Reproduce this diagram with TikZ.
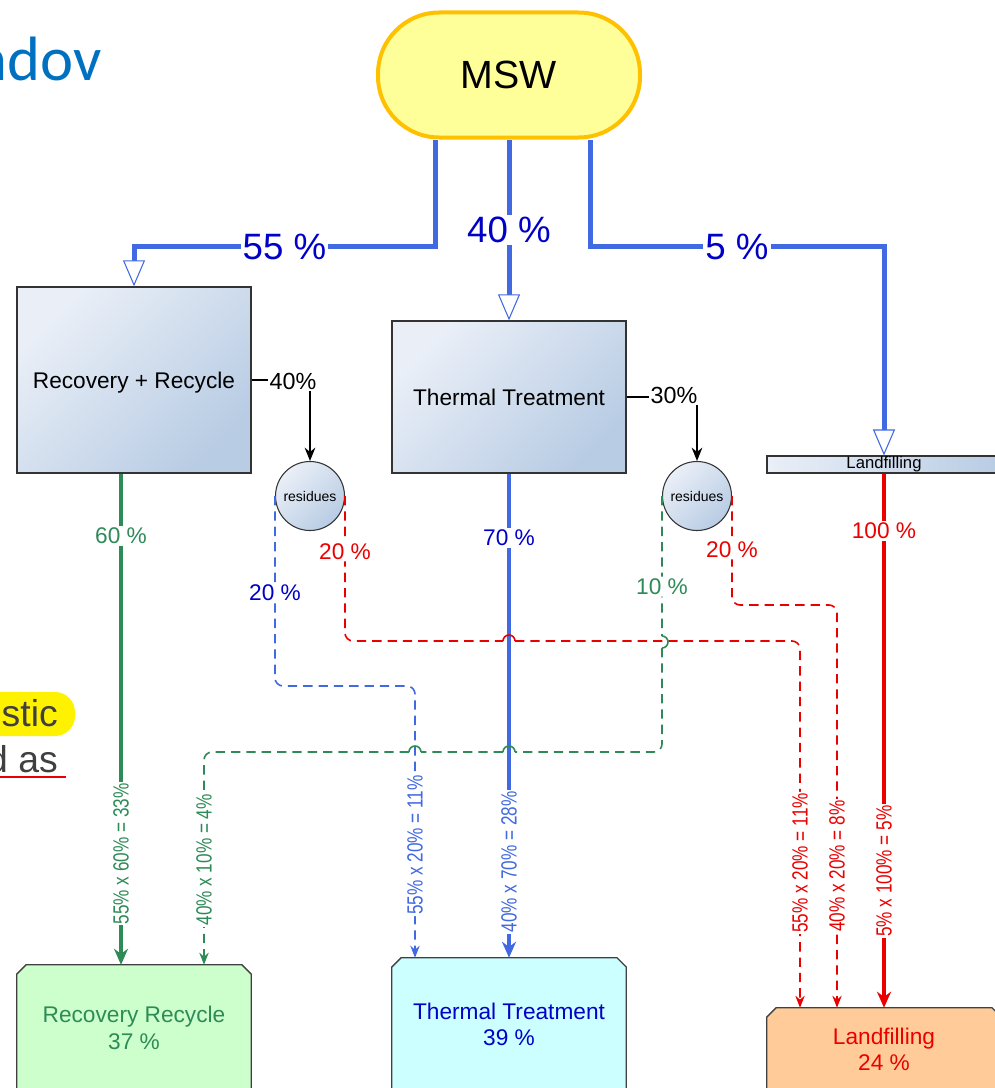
\documentclass[tikz,border=0pt]{standalone}
\usepackage{fontspec}
\setmainfont{Liberation Sans}
\newfontfamily\calib{Carlito}
\usepackage{graphicx}
\usetikzlibrary{arrows.meta,calc}
\definecolor{lineblue}{RGB}{65,105,225}
\definecolor{txtblue}{RGB}{0,0,200}
\definecolor{sgreen}{RGB}{46,139,87}
\definecolor{fred}{RGB}{235,0,0}
\definecolor{gold}{RGB}{255,192,0}
\definecolor{mswfill}{RGB}{255,255,153}
\definecolor{boxlight}{RGB}{234,239,247}
\definecolor{boxdark}{RGB}{184,204,228}
\definecolor{slideblue}{RGB}{0,112,192}
\definecolor{rrfill}{RGB}{204,255,204}
\definecolor{ttfill}{RGB}{204,255,255}
\definecolor{lffill}{RGB}{255,204,153}
\newcommand\condensed[1]{\scalebox{0.78}[1]{#1}}
\newcommand\chambox[2]{\draw[line width=1pt, draw=black!75, fill=#2] ([yshift=-7pt]#1.north west) -- ([xshift=7pt]#1.north west) -- ([xshift=-7pt]#1.north east) -- ([yshift=-7pt]#1.north east) -- (#1.south east) -- (#1.south west) -- cycle;}
\begin{document}
\begin{tikzpicture}[x=0.75pt,y=-0.75pt,
  procbox/.style={draw=black!80, line width=1pt, top color=boxlight, bottom color=boxdark, shading angle=45, font=\fontsize{17}{20}\selectfont, text=black, inner sep=0, minimum width=175.5pt, text height=12.2pt, text depth=0pt},
  resbox/.style={circle, draw=black!80, line width=0.8pt, top color=boxlight, bottom color=boxdark, shading angle=45, minimum size=51.75pt, inner sep=0, font=\fontsize{10.5}{12}\selectfont},
  outshape/.style={minimum width=175.5pt, inner sep=0},
  outtext/.style={align=center, font=\fontsize{17}{20}\selectfont, inner sep=0},
  mainflow/.style={draw=lineblue, line width=3.75pt, -{Triangle[fill=white, length=19.5pt, width=16.5pt, line width=0.8pt]}},
  bigl/.style={fill=white, inner sep=1.5pt, font=\fontsize{27.5}{30}\selectfont, text=txtblue},
  solidflow/.style={line width=3pt, -{Stealth[length=12pt, width=10.5pt]}},
  dflow/.style={line width=1.2pt, dash pattern=on 7pt off 4.5pt, rounded corners=6pt, -{Stealth[length=9pt, width=7pt]}},
  hop/.style={line width=1.2pt},
  lbl/.style={fill=white, inner sep=1.5pt, font=\fontsize{17}{20}\selectfont},
  rot/.style={rotate=90, fill=white, inner sep=1pt, font=\fontsize{16.5}{18}\selectfont},
  pct/.style={inner sep=1pt, font=\fontsize{17.5}{20}\selectfont, text=black}
]
\useasboundingbox (0,0) rectangle (995,1088);

% slide fragments
\node[anchor=base east, inner sep=0, font=\calib\fontsize{47}{50}\selectfont, text=slideblue] (title) at (102,80) {ndov};
\fill[yellow, rounded corners=15pt] (-40,692) rectangle (75,736);
\node[anchor=base east, inner sep=0, font=\fontsize{28}{32}\selectfont, text=black!75] (frag1) at (58,726) {stic};
\node[anchor=base east, inner sep=0, font=\fontsize{28}{32}\selectfont, text=black!75] (frag2) at (58,772) {d as};
\draw[fred, line width=1.5pt] (0,777) -- (66,777);

% nodes
\node[draw=gold, line width=3pt, fill=mswfill, rounded corners=46pt, minimum width=196.5pt, minimum height=93.75pt, font=\fontsize{29.5}{32}\selectfont] (msw) at (509,75) {MSW};
\node[procbox, minimum height=139.5pt] (rr) at (134,380) {Recovery + Recycle};
\node[procbox, minimum height=114pt] (tt) at (509,397) {Thermal Treatment};
\node[draw=black!80, line width=0.8pt, left color=boxlight, right color=boxdark, minimum width=175.5pt, minimum height=12.75pt, inner sep=0, text height=8.5pt, text depth=2.5pt, font=\fontsize{12.5}{13}\selectfont] (lfbar) at (884,464.5) {Landfilling};
\node[resbox] (res1) at (310,496) {residues};
\node[resbox] (res2) at (697,496) {residues};
\node[pct, anchor=west] (p40) at (268,381) {40\%};
\node[pct, anchor=west] (p30) at (649,395) {30\%};

\node[outshape, minimum height=94.5pt] (rr2) at (134,1028) {};
\node[outshape, minimum height=99.75pt] (tt2) at (509,1024.5) {};
\node[outshape, minimum height=62.25pt] (lf2) at (884,1049.5) {};
\chambox{rr2}{rrfill}
\chambox{tt2}{ttfill}
\chambox{lf2}{lffill}
\node[outtext, text=sgreen] (rr2t) at (rr2.center) {Recovery Recycle\\37 \%};
\node[outtext, text=txtblue] (tt2t) at (tt2.center) {Thermal Treatment\\39 \%};
\node[outtext, text=fred] (lf2t) at (lf2.center) {Landfilling\\24 \%};

% main flows from MSW
\draw[mainflow] ([xshift=-55.5pt]msw.south) -- ++(0,107) -| node[pos=0.25, bigl]{55 \%} (rr.north);
\draw[mainflow] (msw.south) -- node[pos=0.5, bigl]{40 \%} (tt.north);
\draw[mainflow] ([xshift=60.75pt]msw.south) -- ++(0,107) -| node[pos=0.25, bigl]{5 \%} (lfbar.north);

% residue splits
\draw[line width=1.1pt] (rr.east) -- (rr.east -| p40.west);
\draw[line width=1.1pt] (tt.east) -- (tt.east -| p30.west);
\draw[line width=1.1pt, -{Stealth[length=10pt, width=8pt]}] (p40.south -| res1.north) -- (res1.north);
\draw[line width=1.1pt, -{Stealth[length=10pt, width=8pt]}] (p30.south -| res2.north) -- (res2.north);

% solid flows
\draw[solidflow, draw=sgreen, text=sgreen] ([xshift=-9.75pt]rr.south) -- node[pos=0.126, lbl]{60 \%} node[pos=0.774, rot]{\condensed{55\% x 60\% = 33\%}} ([xshift=-9.75pt]rr2.north);
\draw[solidflow, draw=lineblue] (tt.south) -- node[pos=0.132, lbl, text=txtblue]{70 \%} node[pos=0.802, rot, text=lineblue]{\condensed{40\% x 70\% = 28\%}} (tt2.north);
\draw[solidflow, draw=fred, text=fred] (lfbar.south) -- node[pos=0.107, lbl]{100 \%} node[pos=0.744, rot]{\condensed{5\% x 100\% = 5\%}} (lf2.north);

% dashed flows
\coordinate (b1) at (275,686);
\coordinate (b2) at (415,686);
\coordinate (r1a) at (345,641);
\coordinate (r1b) at (800,641);
\coordinate (g1) at (662,752);
\coordinate (g2) at (204,752);
\coordinate (r2a) at (732,605);
\coordinate (r2b) at (837,605);

\draw[dflow, draw=lineblue] (res1.west) -- node[pos=0.508, lbl, text=txtblue]{20 \%} (b1) -- (b2) -- node[pos=0.585, rot, text=lineblue]{\condensed{55\% x 20\% = 11\%}} (b2 |- tt2.north);
\draw[dflow, draw=fred, text=fred] (res1.east) -- node[pos=0.382, lbl]{20 \%} (r1a) -- (503,641) (515,641) -- (r1b) -- node[pos=0.605, rot]{\condensed{55\% x 20\% = 11\%}} (r1b |- lf2.north);
\draw[hop, fred] (503,641) arc[start angle=180, end angle=360, x radius=6, y radius=6];
\draw[dflow, draw=sgreen, text=sgreen] (res2.west) -- node[pos=0.647, lbl]{10 \%} (662,636) (662,648) -- (g1) -- (515,752) (503,752) -- (421,752) (409,752) -- (g2) -- node[pos=0.507, rot]{\condensed{40\% x 10\% = 4\%}} (g2 |- rr2.north);
\draw[hop, sgreen] (662,636) arc[start angle=-90, end angle=90, x radius=6, y radius=6];
\draw[hop, sgreen] (515,752) arc[start angle=0, end angle=-180, x radius=6, y radius=6];
\draw[hop, sgreen] (421,752) arc[start angle=0, end angle=-180, x radius=6, y radius=6];
\draw[dflow, draw=fred, text=fred] (res2.east) -- node[pos=0.49, lbl]{20 \%} (r2a) -- (r2b) -- node[pos=0.648, rot]{\condensed{40\% x 20\% = 8\%}} (r2b |- lf2.north);
\end{tikzpicture}
\end{document}
